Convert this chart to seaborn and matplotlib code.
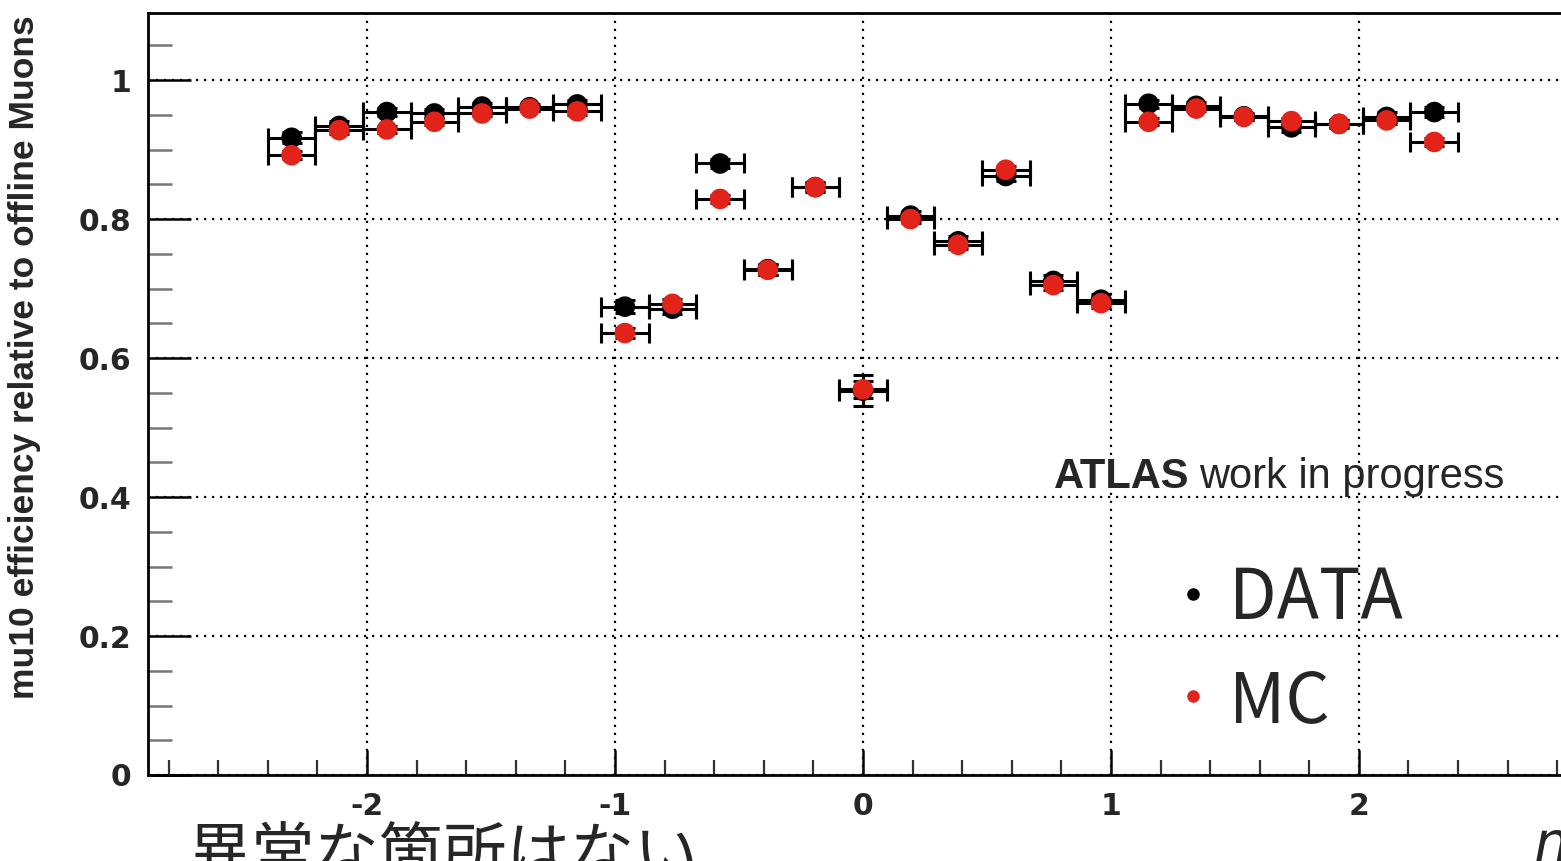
import matplotlib
matplotlib.use("Agg")
import matplotlib.pyplot as plt
import seaborn as sns
import pandas as pd
from matplotlib.ticker import FixedLocator, MultipleLocator
from matplotlib.lines import Line2D

# ---------------- data ----------------
eta = [-2.304, -2.112, -1.920, -1.728, -1.536, -1.344, -1.152, -0.960, -0.768,
       -0.576, -0.384, -0.192, 0.000, 0.192, 0.384, 0.576, 0.768, 0.960,
       1.152, 1.344, 1.536, 1.728, 1.920, 2.112, 2.304]
eta_halfwidth = [0.096] * 25
eff_data = [0.917, 0.934, 0.954, 0.952, 0.962, 0.961, 0.965, 0.674, 0.671,
            0.880, 0.728, 0.846, 0.553, 0.805, 0.768, 0.862, 0.711, 0.684,
            0.966, 0.963, 0.948, 0.932, 0.937, 0.947, 0.954]
eff_mc = [0.892, 0.928, 0.929, 0.940, 0.952, 0.959, 0.955, 0.636, 0.678,
          0.829, 0.727, 0.846, 0.555, 0.800, 0.763, 0.871, 0.705, 0.679,
          0.940, 0.959, 0.947, 0.941, 0.937, 0.942, 0.911]
err_data = [0.008, 0.007, 0.006, 0.006, 0.005, 0.005, 0.006, 0.009, 0.008,
            0.007, 0.008, 0.007, 0.022, 0.007, 0.007, 0.007, 0.008, 0.008,
            0.006, 0.005, 0.005, 0.006, 0.006, 0.007, 0.007]
err_mc = [0.006, 0.005, 0.005, 0.005, 0.004, 0.004, 0.005, 0.007, 0.007,
          0.006, 0.007, 0.006, 0.012, 0.006, 0.006, 0.006, 0.007, 0.007,
          0.005, 0.004, 0.004, 0.005, 0.005, 0.005, 0.006]
y_ticks = [0, 0.2, 0.4, 0.6, 0.8, 1.0]
y_ticklabels = ["0", "0.2", "0.4", "0.6", "0.8", "1"]
x_ticks = [-2, -1, 0, 1, 2]
x_ticklabels = ["-2", "-1", "0", "1", "2"]
series_names = ["DATA", "MC"]
ylabel = "mu10 efficiency relative to offline Muons"
atlas_bold = "ATLAS"
atlas_rest = "work in progress"
jp_note = "異常な箇所はない"

RED = "#e2231a"

df = pd.DataFrame({
    "eta": eta + eta,
    "eff": eff_data + eff_mc,
    "err": err_data + err_mc,
    "xerr": eta_halfwidth + eta_halfwidth,
    "sample": [series_names[0]] * len(eta) + [series_names[1]] * len(eta),
})

# ---------------- style ----------------
sns.set_style("white")
plt.rcParams["font.family"] = ["Liberation Sans", "Noto Sans CJK JP", "DejaVu Sans"]
plt.rcParams["axes.unicode_minus"] = False

W, H = 1561, 861
fig = plt.figure(figsize=(W / 100, H / 100), dpi=100)
ax = fig.add_axes([148 / W, 86 / H, (W - 148) / W, (775 - 12.7) / H])

# error bars (black for both samples)
for name in series_names:
    sub = df[df["sample"] == name]
    ax.errorbar(sub["eta"], sub["eff"], xerr=sub["xerr"], yerr=sub["err"],
                fmt="none", ecolor="black", elinewidth=2.2, capsize=7,
                capthick=2.2, zorder=2)

sns.scatterplot(data=df, x="eta", y="eff", hue="sample",
                palette={"DATA": "black", "MC": RED}, s=220,
                edgecolor="none", linewidth=0, legend=False, ax=ax, zorder=3)

ax.set_xlim(-2.883, 2.815)
ax.set_ylim(0, 1.097)

ax.xaxis.set_major_locator(FixedLocator(x_ticks))
ax.set_xticklabels(x_ticklabels)
ax.xaxis.set_minor_locator(MultipleLocator(0.2))
ax.yaxis.set_major_locator(FixedLocator(y_ticks))
ax.set_yticklabels(y_ticklabels)
ax.yaxis.set_minor_locator(MultipleLocator(0.05))

for lab in ax.get_xticklabels() + ax.get_yticklabels():
    lab.set_family("DejaVu Sans")
    lab.set_fontweight("bold")
    lab.set_fontsize(21.5)

ax.tick_params(axis="x", which="major", direction="in", length=18, width=1.8,
               color="black", pad=12, bottom=True, top=False)
ax.tick_params(axis="x", which="minor", direction="in", length=11, width=1.6,
               color="#333333", bottom=True, top=False)
ax.tick_params(axis="y", which="major", direction="in", length=31, width=1.8,
               color="black", pad=12, left=True, right=False)
ax.tick_params(axis="y", which="minor", direction="in", length=17, width=1.8,
               color="#777777", left=True, right=False)

ax.grid(True, which="major", color="black", linestyle=(0, (1, 2.6)),
        linewidth=1.6)
ax.set_axisbelow(True)

for side in ["top", "left", "bottom"]:
    ax.spines[side].set_color("black")
    ax.spines[side].set_linewidth(2)
ax.spines["right"].set_visible(False)

ax.set_xlabel("")
ax.set_ylabel(ylabel, fontweight="bold", fontsize=25.5)
ax.yaxis.set_label_coords(-0.076, 0.548)

# ATLAS label
fig.text(1054 / W, (H - 488) / H, atlas_bold, fontsize=30, fontweight="bold",
         ha="left", va="baseline")
fig.text(1199 / W, (H - 488) / H, atlas_rest, fontsize=30,
         ha="left", va="baseline")

# Legend-like labels
fig.text(1229 / W, (H - 619) / H, "DATA", fontsize=50,
         family=["Noto Sans CJK JP", "DejaVu Sans"], ha="left", va="baseline")
fig.text(1229 / W, (H - 723) / H, "MC", fontsize=50,
         family=["Noto Sans CJK JP", "DejaVu Sans"], ha="left", va="baseline")
fig.add_artist(Line2D([1193 / W], [(H - 594) / H], marker="o", markersize=8,
                      color="black", linestyle="none", transform=fig.transFigure))
fig.add_artist(Line2D([1193 / W], [(H - 696) / H], marker="o", markersize=8,
                      color=RED, linestyle="none", transform=fig.transFigure))

# bottom Japanese note (partly cut off in the reference) and eta symbol
fig.text(188 / W, (H - 876) / H, jp_note, fontsize=46,
         family=["Noto Sans CJK JP", "DejaVu Sans"], ha="left", va="baseline")
fig.text(1532 / W, (H - 862) / H, r"$\eta$", fontsize=40, ha="left",
         va="baseline")

fig.savefig("out.png", dpi=100, facecolor="white")
